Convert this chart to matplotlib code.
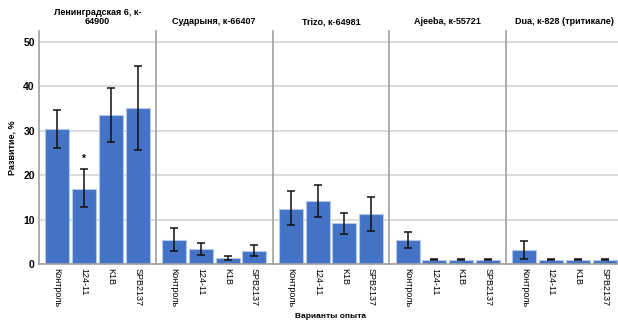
import numpy as np
import matplotlib.pyplot as plt

plt.rcParams['font.family'] = ['Liberation Sans', 'DejaVu Sans']

titles = ['Ленинградская 6, к-\n64900', 'Сударыня, к-66407', 'Trizo, к-64981',
          'Ajeeba, к-55721', 'Dua, к-828 (тритикале)']
variants = ['Контроль', '124-11', 'K1B', 'SPB2137']

means = [
    [30.5, 17.0, 33.5, 35.2],
    [5.4, 3.4, 1.3, 3.0],
    [12.5, 14.1, 9.2, 11.25],
    [5.3, 1.0, 1.0, 1.0],
    [3.1, 1.0, 1.0, 1.0],
]
err_low = [
    [26.2, 12.8, 27.6, 25.6],
    [2.9, 2.1, 0.9, 1.9],
    [8.7, 10.5, 6.8, 7.5],
    [3.5, 0.9, 0.9, 0.9],
    [1.06, 0.9, 0.9, 0.9],
]
err_high = [
    [34.8, 21.4, 39.6, 44.7],
    [8.1, 4.8, 1.8, 4.2],
    [16.4, 17.8, 11.6, 15.0],
    [7.1, 1.1, 1.1, 1.1],
    [5.1, 1.1, 1.1, 1.1],
]
star_panel, star_bar, star_y = 0, 1, 23.6

fig = plt.figure(figsize=(6.18, 3.21), dpi=100)
W, H = 618, 321
left0, pw = 39, 116.8
top, bottom = 31, 264

x = np.arange(len(variants))
for i in range(len(titles)):
    ax = fig.add_axes([(left0 + i * pw) / W, 1 - bottom / H, pw / W, (bottom - top) / H])
    m = np.array(means[i])
    lo = m - np.array(err_low[i])
    hi = np.array(err_high[i]) - m
    ax.bar(x, m, width=0.9, color='#4472c4', edgecolor='#b3c8ec', linewidth=0.8, zorder=2)
    ax.errorbar(x, m, yerr=[lo, hi], fmt='none', ecolor='#111111', elinewidth=1.1,
                capsize=3, capthick=1.1, zorder=3)
    if i == star_panel:
        ax.text(star_bar, star_y, '*', ha='center', va='center', fontsize=7, fontweight='bold')
    ax.set_xlim(-0.68, 3.68)
    ax.set_ylim(0, 52.5)
    ax.set_yticks([0, 10, 20, 30, 40, 50])
    ax.yaxis.grid(True, color='#d9d9d9', linewidth=1.3, zorder=0)
    ax.set_axisbelow(True)
    ax.set_xticks(x)
    ax.set_xticklabels(variants, rotation=-90, fontsize=6.5)
    ax.tick_params(axis='both', length=0, pad=3, colors='#000000')
    for s in ['top', 'right']:
        ax.spines[s].set_visible(False)
    for s in ['left', 'bottom']:
        ax.spines[s].set_color('#a0a0a0')
        ax.spines[s].set_linewidth(1.2)
    if i == 0:
        for lab in ax.get_yticklabels():
            lab.set_fontsize(7.5)
            lab.set_fontweight('bold')
        ax.set_ylabel('Развитие, %', fontsize=6.5, fontweight='bold', labelpad=5)
    else:
        ax.set_yticklabels([])
    ax.set_title(titles[i], fontsize=6.5, fontweight='bold', pad=5, linespacing=0.95)

fig.text(331 / W, 1 - 317 / H, 'Варианты опыта', ha='center', va='center',
         fontsize=6, fontweight='bold')

plt.savefig('out.png', dpi=100)
